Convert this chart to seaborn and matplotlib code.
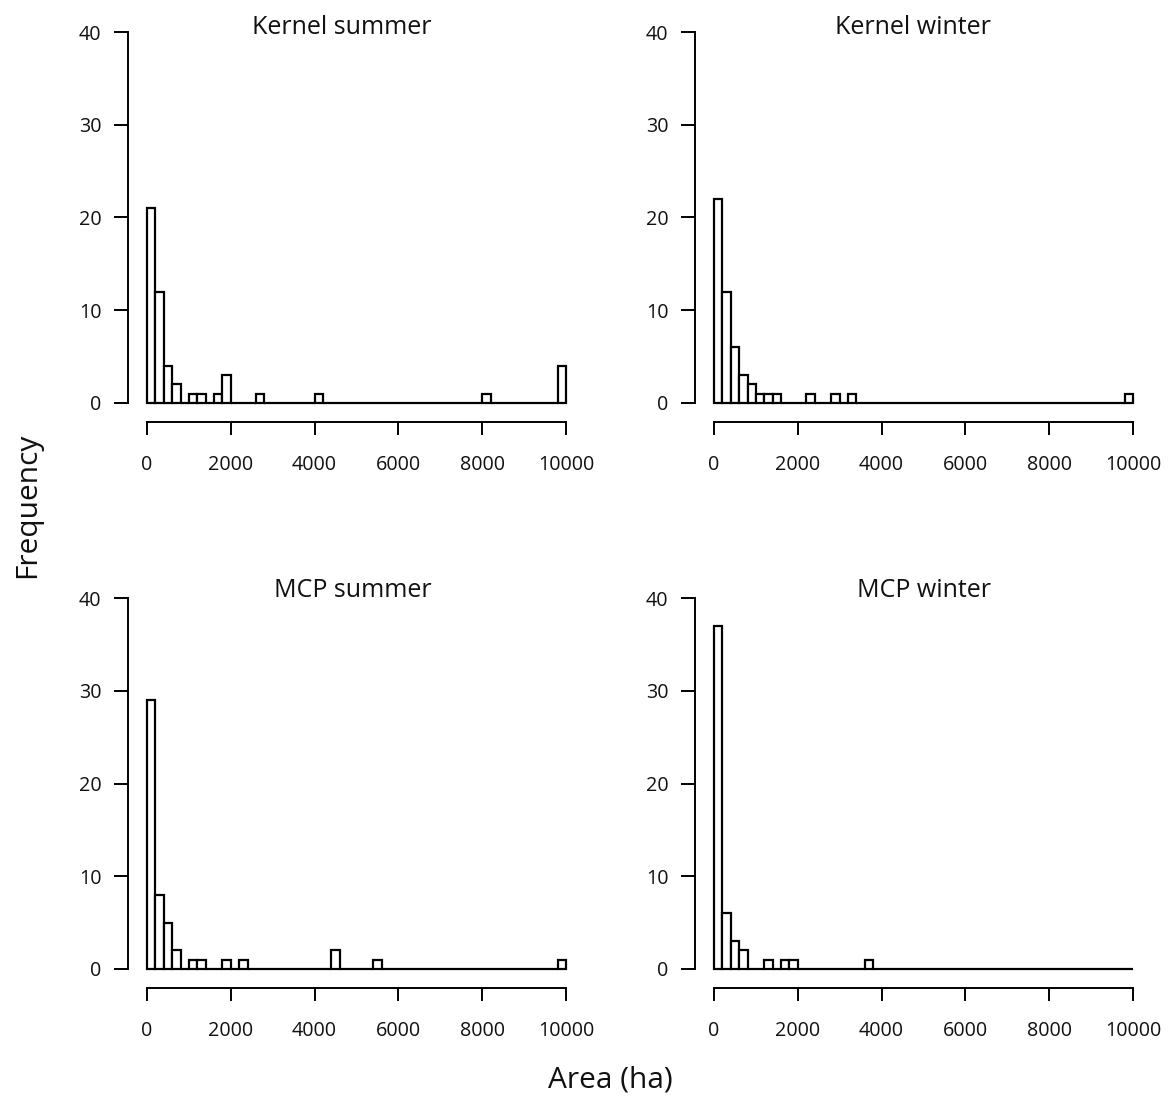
import numpy as np
import pandas as pd
import matplotlib
matplotlib.use("Agg")
import matplotlib.pyplot as plt
import seaborn as sns

sns.set_theme(style="ticks")
plt.rcParams["font.family"] = ["Open Sans", "DejaVu Sans"]

# Home-range areas (ha), binned in 200 ha classes: lower bin edge and count
kernel_summer_bins = [0, 200, 400, 600, 1000, 1200, 1600, 1800, 2600, 4000, 8000, 9800]
kernel_summer_counts = [21, 12, 4, 2, 1, 1, 1, 3, 1, 1, 1, 4]

kernel_winter_bins = [0, 200, 400, 600, 800, 1000, 1200, 1400, 2200, 2800, 3200, 9800]
kernel_winter_counts = [22, 12, 6, 3, 2, 1, 1, 1, 1, 1, 1, 1]

mcp_summer_bins = [0, 200, 400, 600, 1000, 1200, 1800, 2200, 4400, 5400, 9800]
mcp_summer_counts = [29, 8, 5, 2, 1, 1, 1, 1, 2, 1, 1]

mcp_winter_bins = [0, 200, 400, 600, 1200, 1600, 1800, 3600]
mcp_winter_counts = [37, 6, 3, 2, 1, 1, 1, 1]

panel_titles = ["Kernel summer", "Kernel winter", "MCP summer", "MCP winter"]
x_ticks = [0, 2000, 4000, 6000, 8000, 10000]
y_ticks = [0, 10, 20, 30, 40]
bin_width = 200

W, H = 1172, 1104
fig = plt.figure(figsize=(W / 100, H / 100), dpi=100)

# axes rectangles in pixels: (left, top, right, bottom)
rects = [(128, 13, 585, 422), (695, 13, 1152, 422),
         (128, 579, 585, 988), (695, 579, 1152, 988)]
title_anchor = [(432, 34), (991, 34), (432, 597), (991, 597)]

series = [(kernel_summer_bins, kernel_summer_counts),
          (kernel_winter_bins, kernel_winter_counts),
          (mcp_summer_bins, mcp_summer_counts),
          (mcp_winter_bins, mcp_winter_counts)]

for (l, t, r, b), (bins, counts), title, (tx, ty) in zip(rects, series, panel_titles, title_anchor):
    ax = fig.add_axes([l / W, 1 - b / H, (r - l) / W, (b - t) / H])
    df = pd.DataFrame({"area": np.array(bins) + bin_width / 2, "n": counts})
    sns.histplot(data=df, x="area", weights="n", binwidth=bin_width,
                 binrange=(0, 10000), fill=True, color="white",
                 edgecolor="black", linewidth=1.6, alpha=1, ax=ax)
    ax.set_xlim(-453, 10453)
    ax.set_ylim(-2.05, 42.05)
    ax.set_xticks(x_ticks)
    ax.set_yticks(y_ticks)
    ax.set_xticklabels([str(v) for v in x_ticks])
    ax.set_yticklabels([str(v) for v in y_ticks])
    ax.spines["top"].set_visible(False)
    ax.spines["right"].set_visible(False)
    ax.spines["left"].set_bounds(0, 40)
    ax.spines["bottom"].set_bounds(0, 10000)
    for s in ("left", "bottom"):
        ax.spines[s].set_linewidth(1.4)
        ax.spines[s].set_color("black")
    ax.tick_params(axis="both", direction="out", width=1.4,
                   colors="black", labelsize=14.2, labelcolor="#111111")
    ax.tick_params(axis="y", length=10, pad=9)
    ax.tick_params(axis="x", length=9, pad=15)
    ax.set_xlabel("")
    ax.set_ylabel("")
    ax.set_facecolor("white")
    fig.text(tx / W, 1 - ty / H, title, ha="right", va="baseline",
             fontsize=18, color="#111111")

fig.text(28 / W, 1 - 505 / H, "Frequency", rotation=90, ha="center",
         va="center", fontsize=21.5, color="#111111")
fig.text(610 / W, 1 - 1080 / H, "Area (ha)", ha="center", va="center",
         fontsize=21.5, color="#111111")

fig.savefig("out.png", dpi=100, facecolor="white")
